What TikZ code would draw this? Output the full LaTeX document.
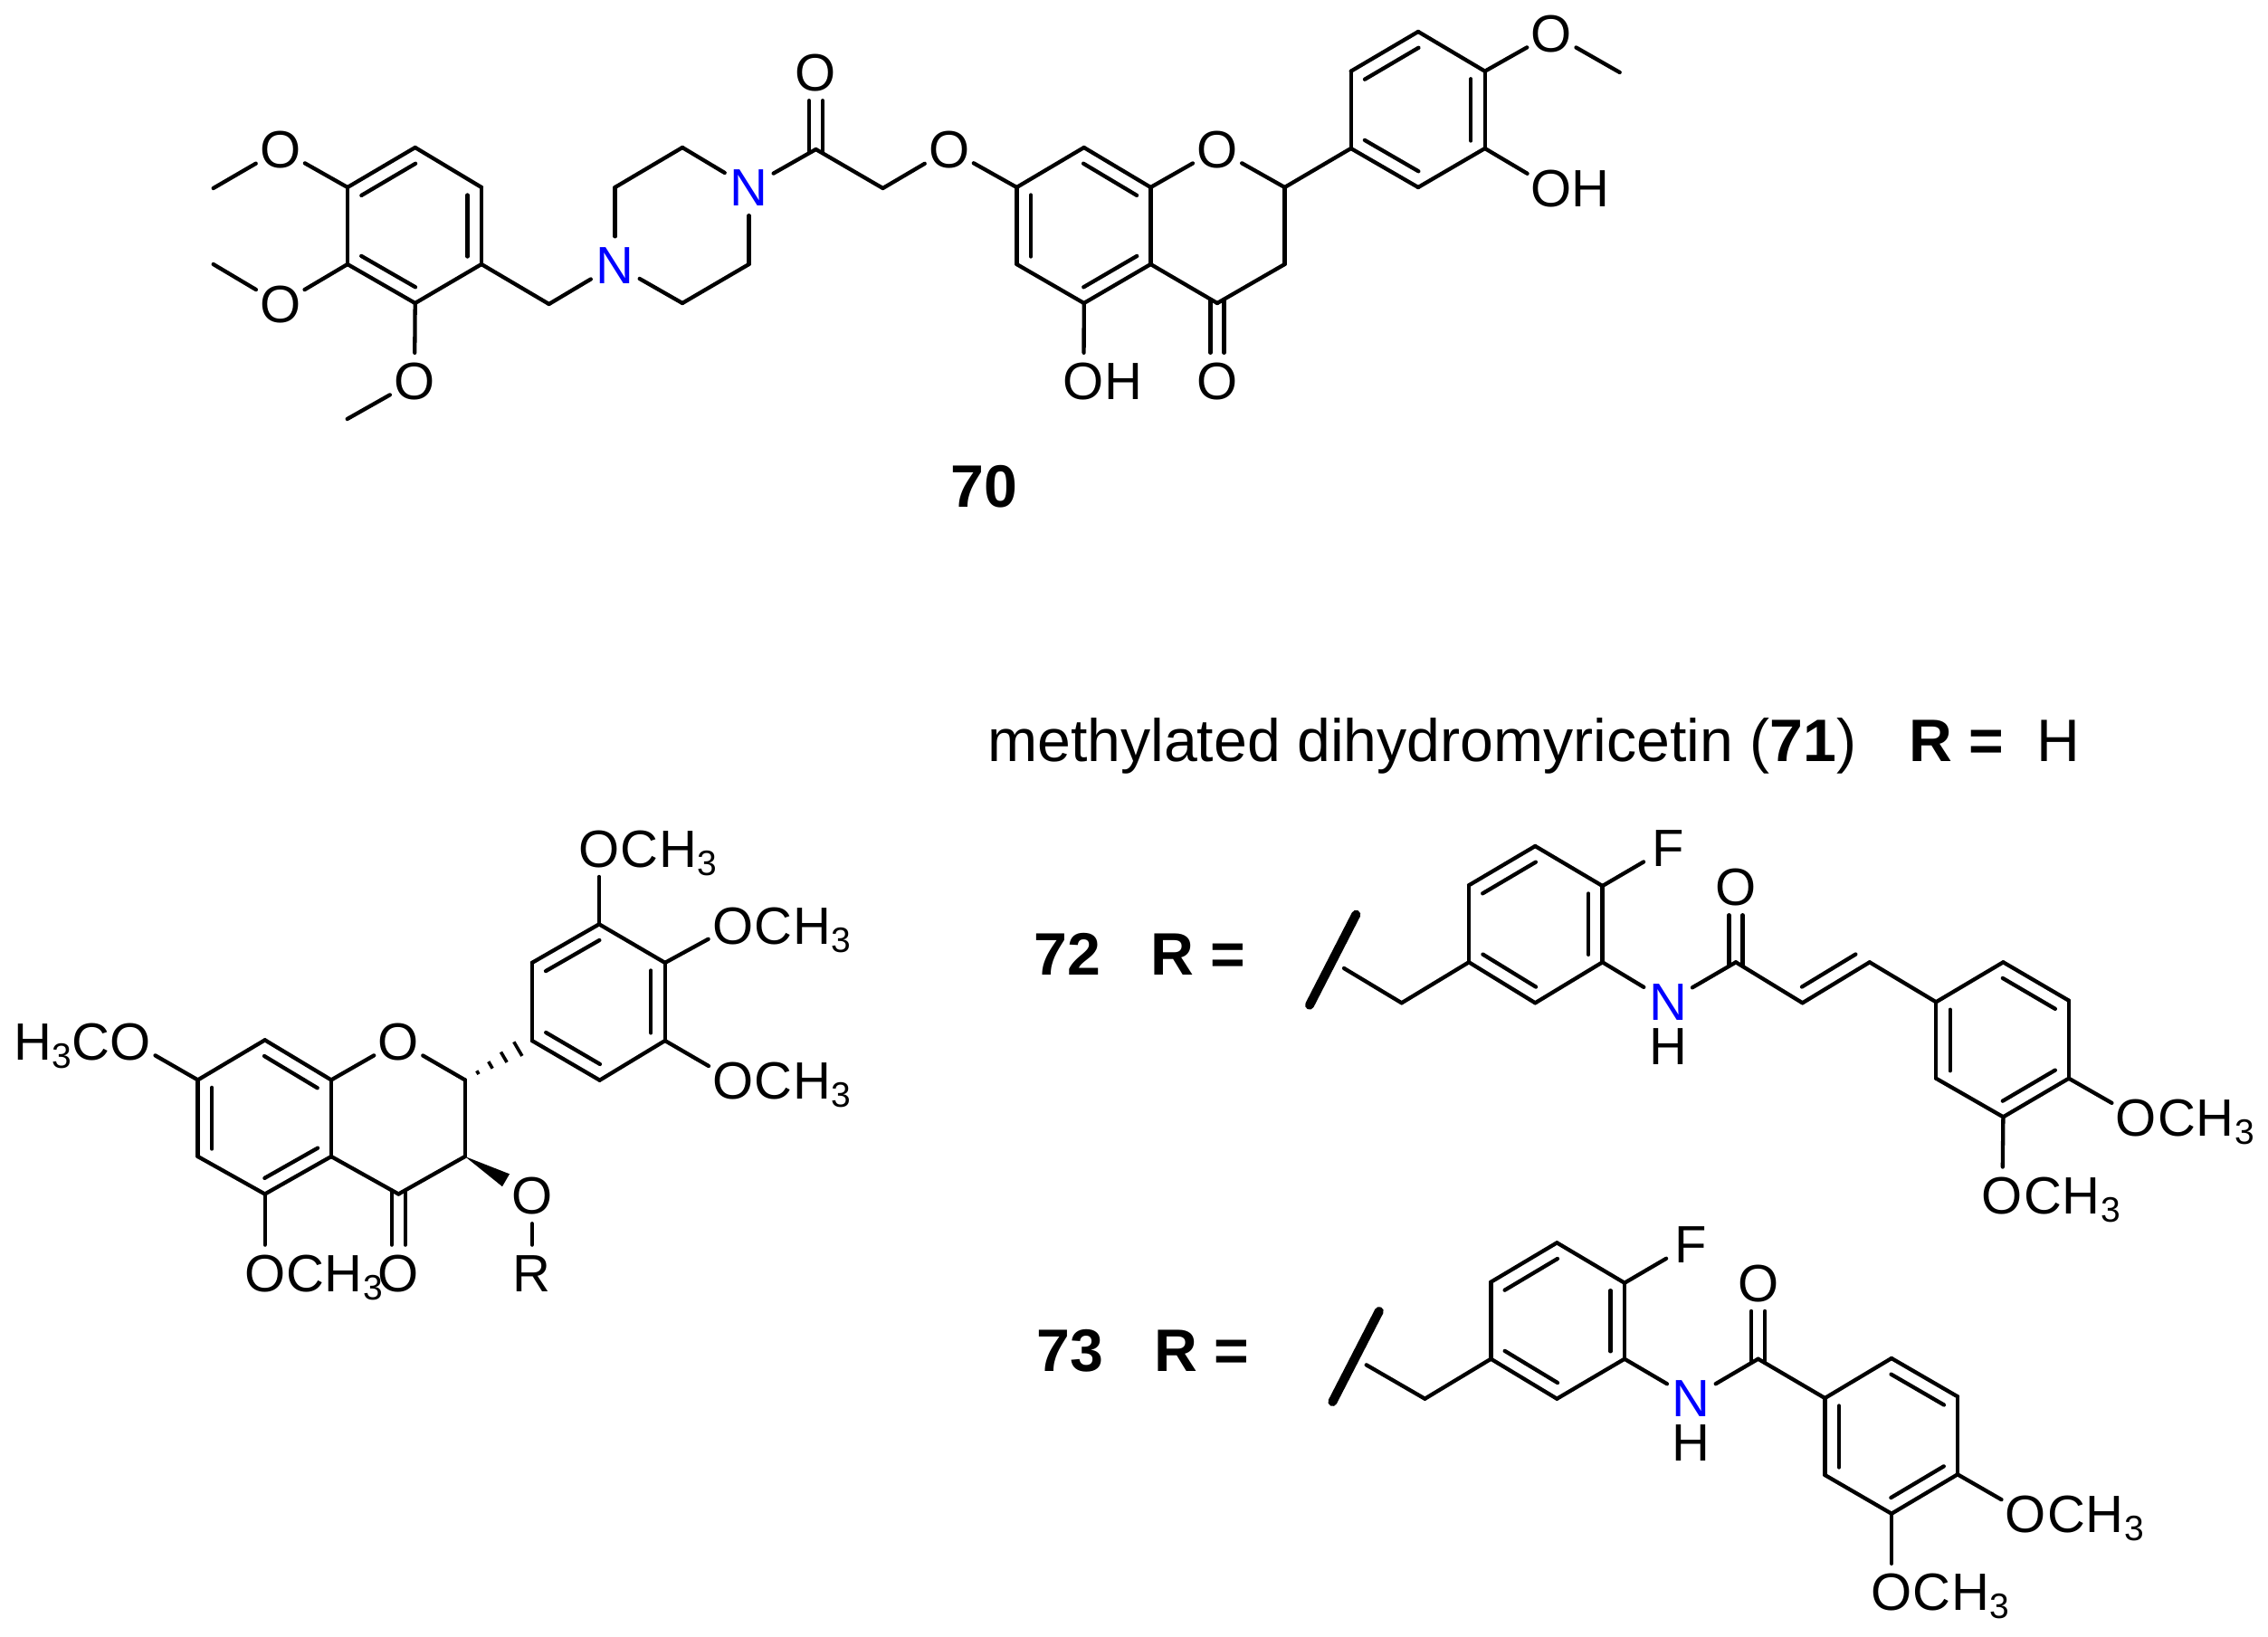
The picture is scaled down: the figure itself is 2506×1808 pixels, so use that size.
\documentclass[tikz,border=0pt]{standalone}
\usepackage{fontspec}
\setmainfont{Liberation Sans}
\usetikzlibrary{calc}
\definecolor{nblue}{RGB}{0,0,255}
\newcommand\dbo{15.5pt}
\newcommand\dR[2]{\draw[bond] ($(#1)!.1!(#2)!\dbo!-90:(#2)$) -- ($(#2)!.1!(#1)!\dbo!90:(#1)$);}
\newcommand\dL[2]{\draw[bond] ($(#1)!.1!(#2)!\dbo!90:(#2)$) -- ($(#2)!.1!(#1)!\dbo!-90:(#1)$);}
% symmetric double bond: upper atom node #1, lower end #2
\newcommand\dDown[2]{\draw[bond] ([xshift=-7.5pt]#1.south) -- ([xshift=-7.5pt,yshift=-4pt]#2);\draw[bond] ([xshift=7.5pt]#1.south) -- ([xshift=7.5pt,yshift=-4pt]#2);}
\newcommand\dUp[2]{\draw[bond] ([xshift=-7.5pt]#1.north) -- ([xshift=-7.5pt,yshift=4pt]#2);\draw[bond] ([xshift=7.5pt]#1.north) -- ([xshift=7.5pt,yshift=4pt]#2);}
\newcommand\ctr[1]{\makebox[0pt]{#1}}
\newcommand\tlR[1]{\makebox[0pt][l]{\hspace{-.389em}O#1}}
\newcommand\tlL[1]{\makebox[0pt][r]{#1O\hspace{-.389em}}}
\newcommand\three{\raisebox{-9pt}{\fontsize{39}{39}\selectfont 3}}
\newcommand\mt{\kern1pt C\kern.6pt H\kern.6pt\three}
\tikzset{
  bond/.style={line width=4.3pt,line cap=round,draw=black},
  atom/.style={circle,inner sep=0pt,minimum size=62pt,font=\fontsize{58}{60}\selectfont,text height=41.5pt,text depth=0pt},
  natom/.style={atom,text=nblue},
  plain/.style={inner sep=0pt,font=\fontsize{58}{60}\selectfont,text height=41.5pt,text depth=0pt},
  title/.style={inner sep=0pt,font=\fontsize{66.2}{70}\selectfont,text height=47pt,text depth=0pt},
  titleb/.style={title,font=\fontsize{66.2}{70}\selectfont\bfseries},
  slash/.style={line width=10pt,line cap=round,draw=black},
  hashb/.style={line width=3.6pt,draw=black},
}
\begin{document}
\begin{tikzpicture}[x=1pt,y=-1pt]
\useasboundingbox (0,0) rectangle (2506,1808);
% ---------- 70 ----------
\foreach \n/\x/\y in {a1/384/207,a2/458.7/163,a3/532/207,a4/532/292,a5/458.7/335,a6/384/292,
 ch2/606.6/336,p1/679.6/207,p2/754/163,p4/827.5/292,p5/754/335,co/901.5/165,ch3/975.5/208,
 me1/235.7/208,me2/235.7/292,me3/383.7/463,
 c7/1123.4/207,c8/1197.7/163,c8a/1271.4/207,c2/1419.5/207,c3/1419.5/292,c4/1345/335,c4a/1271.4/292,c5/1197.7/335,c6/1123.4/292,
 b1/1492.7/164,b2/1492.7/78.7,b3/1567/35,b4/1640.7/78.7,b5/1640.7/164,b6/1567/207,me4/1789.7/80}
  \coordinate (\n) at (\x,\y);
\node[atom] (oa) at (309.7,165) {\ctr{O}};
\node[atom] (ob) at (309.7,336) {\ctr{O}};
\node[atom] (oc) at (458,421) {\ctr{O}};
\node[natom] (n1) at (679.6,292.5) {\ctr{N}};
\node[natom] (n2) at (827.5,207) {\ctr{N}};
\node[atom] (od) at (901.5,80) {\ctr{O}};
\node[atom] (oe) at (1048.6,165) {\ctr{O}};
\node[atom] (o1) at (1345,165) {\ctr{O}};
\node[atom] (of) at (1197.5,421) {\tlR{H}};
\node[atom] (og) at (1345,421) {\ctr{O}};
\node[atom] (oh) at (1714.4,37) {\ctr{O}};
\node[atom] (oi) at (1714.4,207.7) {\tlR{H}};
\node[titleb] (l70) at (1087,537) {70};
\foreach \u/\v in {a1/a2,a2/a3,a3/a4,a4/a5,a5/a6,a6/a1,a1/oa,oa/me1,a6/ob,ob/me2,a5/oc,oc/me3,a4/ch2,ch2/n1,n1/p1,p1/p2,p2/n2,n2/p4,p4/p5,p5/n1,n2/co,co/ch3,ch3/oe,oe/c7,
 c7/c8,c8/c8a,c8a/c4a,c4a/c5,c5/c6,c6/c7,c8a/o1,o1/c2,c2/c3,c3/c4,c4/c4a,c5/of,c2/b1,b1/b2,b2/b3,b3/b4,b4/b5,b5/b6,b6/b1,b4/oh,oh/me4,b5/oi}
  \draw[bond] (\u) -- (\v);
\dR{a1}{a2}\dR{a3}{a4}\dR{a5}{a6}
\dR{c8}{c8a}\dR{c4a}{c5}\dR{c6}{c7}
\dR{b2}{b3}\dR{b4}{b5}\dR{b6}{b1}
\dDown{od}{co}
\dUp{og}{c4}
% ---------- 71 ----------
\foreach \n/\x/\y in {d7/218.6/1193.4,d8/292.7/1149.3,d8a/366/1193.4,d2/513.8/1193.4,d3/513.8/1278,d4/440.3/1319.5,d4a/366/1278,d5/292.7/1319.5,d6/218.6/1278,
 e1/587.9/1150,e2/587.9/1063.9,e3/662/1021.3,e4/734.8/1063.9,e5/734.8/1150,e6/662.6/1193.7}
  \coordinate (\n) at (\x,\y);
\node[atom] (q1) at (440.3,1150.8) {\ctr{O}};
\node[atom] (q2) at (144.5,1150.8) {\tlL{H\three\kern.6pt C\kern.6pt}};
\node[atom] (q3) at (292.7,1406.8) {\tlR{\mt}};
\node[atom] (q4) at (440.3,1406.8) {\ctr{O}};
\node[atom] (q5) at (587.9,1321) {\ctr{O}};
\node[atom] (q6) at (587.9,1406.8) {\ctr{R}};
\node[atom] (q7) at (662,937.7) {\tlR{\mt}};
\node[atom] (q8) at (810,1022.8) {\tlR{\mt}};
\node[atom] (q9) at (810,1193.7) {\tlR{\mt}};
\foreach \u/\v in {d7/d8,d8/d8a,d8a/d4a,d4a/d5,d5/d6,d6/d7,d8a/q1,q1/d2,d2/d3,d3/d4,d4/d4a,d7/q2,d5/q3,q5/q6,
 e1/e2,e2/e3,e3/e4,e4/e5,e5/e6,e6/e1,e3/q7,e4/q8,e5/q9}
  \draw[bond] (\u) -- (\v);
\dR{d8}{d8a}\dR{d4a}{d5}\dR{d6}{d7}
\dR{e2}{e3}\dR{e4}{e5}\dR{e6}{e1}
\dUp{q4}{d4}
\fill (d3) -- ($(d3)!.61!(q5)!8pt!90:(q5)$) -- ($(d3)!.61!(q5)!8pt!-90:(q5)$) -- cycle;
\foreach \t/\w in {.19/2.2pt,.38/4.4pt,.58/6.6pt,.79/9pt}
  \draw[hashb] ($(d2)!\t!(e1)!\w!90:(e1)$) -- ($(d2)!\t!(e1)!\w!-90:(e1)$);
% ---------- heading ----------
\node[title,anchor=west] (t1) at (1091,818) {methylated dihydromyricetin (\textbf{71})};
\node[titleb,anchor=west] (t2) at (2109,818) {R =};
\node[title,anchor=west] (t3) at (2250,818) {H};
% ---------- 72 ----------
\node[titleb] (l72) at (1179,1054) {72};
\node[titleb,anchor=west] (r72) at (1271,1054) {R =};
\coordinate (s1) at (1498.3,1010.7);
\coordinate (s2) at (1447,1110.7);
\coordinate (sb) at (1485,1070);
\foreach \n/\x/\y in {f0/1548.7/1108.3,fA/1623/1063.3,fB/1623/978.3,fC/1696.3/935,fD/1770.6/979,fE/1770.6/1063.3,fF/1696.3/1108.3,
 gC/1918/1063.3,gA/1991.6/1108.3,gB/2065.8/1063.3,h1/2139.2/1107.3,h2/2213.4/1063.3,h3/2285.9/1105.7,h4/2285.9/1191.7,h5/2213.4/1234.3,h6/2139.2/1191.7}
  \coordinate (\n) at (\x,\y);
\node[atom] (fl) at (1843,936.7) {\ctr{F}};
\node[natom] (nh) at (1843,1107) {\ctr{N}};
\node[plain] (hh) at (1843,1156) {\ctr{H}};
\node[atom] (ox) at (1918,980) {\ctr{O}};
\node[atom] (oy) at (2360.5,1234.3) {\tlR{\mt}};
\node[atom] (oz) at (2212.5,1320.7) {\tlR{\mt}};
\draw[slash] (s1) -- (s2);
\foreach \u/\v in {sb/f0,f0/fA,fA/fB,fB/fC,fC/fD,fD/fE,fE/fF,fF/fA,fD/fl,fE/nh,nh/gC,gC/gA,gA/gB,gB/h1,h1/h2,h2/h3,h3/h4,h4/h5,h5/h6,h6/h1,h4/oy,h5/oz}
  \draw[bond] (\u) -- (\v);
\dR{fB}{fC}\dR{fD}{fE}\dR{fF}{fA}
\dR{h2}{h3}\dR{h4}{h5}\dR{h6}{h1}
\dL{gA}{gB}
\dDown{ox}{gC}
% ---------- 73 ----------
\node[titleb] (l73) at (1182,1491.7) {73};
\node[titleb,anchor=west] (r73) at (1275,1491.7) {R =};
\coordinate (u1) at (1523.8,1449);
\coordinate (u2) at (1472.4,1549);
\coordinate (ub) at (1509.7,1508.3);
\foreach \n/\x/\y in {v0/1574.4/1545.7,vA/1647.4/1501.7,vB/1647.4/1416.7,vC/1720.3/1373.3,vD/1795/1417.7,vE/1795/1501.7,vF/1720.3/1545.7,
 wC/1942.6/1501.7,k1/2016.4/1545,k2/2090/1501,k3/2163/1543.3,k4/2163/1629.3,k5/2090/1672.7,k6/2016.4/1630}
  \coordinate (\n) at (\x,\y);
\node[atom] (fm) at (1868,1375) {\ctr{F}};
\node[natom] (nj) at (1868.8,1545) {\ctr{N}};
\node[plain] (hj) at (1868.8,1594) {\ctr{H}};
\node[atom] (pq) at (1942.6,1417.7) {\ctr{O}};
\node[atom] (pr) at (2238.5,1672.7) {\tlR{\mt}};
\node[atom] (ps) at (2090,1759) {\tlR{\mt}};
\draw[slash] (u1) -- (u2);
\foreach \u/\v in {ub/v0,v0/vA,vA/vB,vB/vC,vC/vD,vD/vE,vE/vF,vF/vA,vD/fm,vE/nj,nj/wC,wC/k1,k1/k2,k2/k3,k3/k4,k4/k5,k5/k6,k6/k1,k4/pr,k5/ps}
  \draw[bond] (\u) -- (\v);
\dR{vB}{vC}\dR{vD}{vE}\dR{vF}{vA}
\dR{k2}{k3}\dR{k4}{k5}\dR{k6}{k1}
\dDown{pq}{wC}
\end{tikzpicture}
\end{document}
